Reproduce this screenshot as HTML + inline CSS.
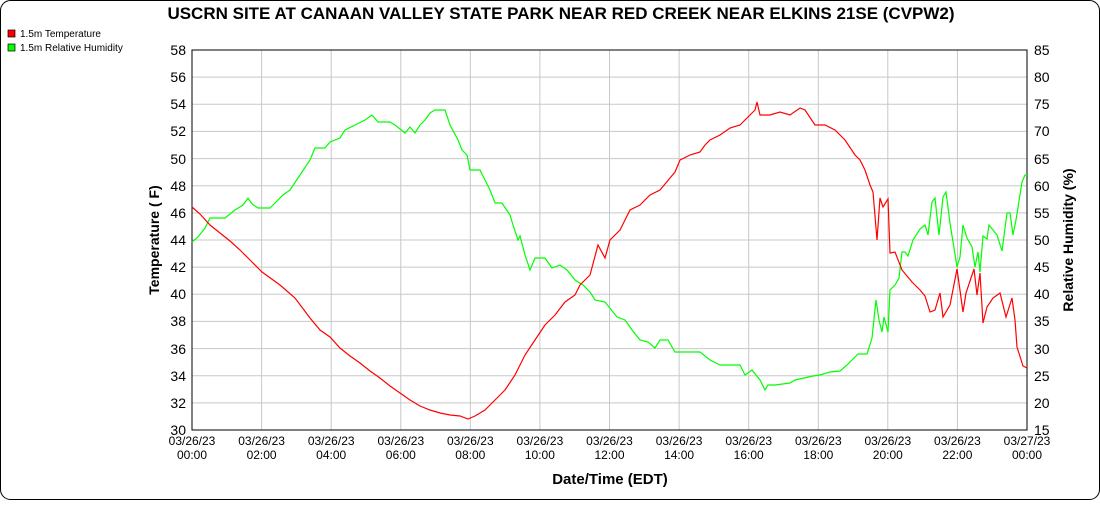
<!DOCTYPE html><html><head><style>body{margin:0;background:#fff}svg text{font-family:"Liberation Sans",sans-serif}</style></head><body>
<svg width="1100" height="500" xmlns="http://www.w3.org/2000/svg">
<rect x="0.5" y="0.5" width="1099" height="499" rx="10" fill="#fff" stroke="#000"/>
<text x="561" y="19" text-anchor="middle" font-size="17" font-weight="bold">USCRN SITE AT CANAAN VALLEY STATE PARK NEAR RED CREEK NEAR ELKINS 21SE (CVPW2)</text>
<rect x="8" y="30" width="7" height="7" fill="#f00" stroke="#000" stroke-width="0.7"/><text x="20" y="37" font-size="10">1.5m Temperature</text>
<rect x="8" y="44" width="7" height="7" fill="#0f0" stroke="#000" stroke-width="0.7"/><text x="20" y="51" font-size="10">1.5m Relative Humidity</text>
<g stroke="#c8c8c8" stroke-width="1">
<line x1="192" y1="77.1" x2="1027" y2="77.1"/><line x1="192" y1="104.3" x2="1027" y2="104.3"/><line x1="192" y1="131.4" x2="1027" y2="131.4"/><line x1="192" y1="158.6" x2="1027" y2="158.6"/><line x1="192" y1="185.7" x2="1027" y2="185.7"/><line x1="192" y1="212.9" x2="1027" y2="212.9"/><line x1="192" y1="240" x2="1027" y2="240"/><line x1="192" y1="267.1" x2="1027" y2="267.1"/><line x1="192" y1="294.3" x2="1027" y2="294.3"/><line x1="192" y1="321.4" x2="1027" y2="321.4"/><line x1="192" y1="348.6" x2="1027" y2="348.6"/><line x1="192" y1="375.7" x2="1027" y2="375.7"/><line x1="192" y1="402.9" x2="1027" y2="402.9"/>
<line x1="261.6" y1="50" x2="261.6" y2="430"/><line x1="331.2" y1="50" x2="331.2" y2="430"/><line x1="400.8" y1="50" x2="400.8" y2="430"/><line x1="470.3" y1="50" x2="470.3" y2="430"/><line x1="539.9" y1="50" x2="539.9" y2="430"/><line x1="609.5" y1="50" x2="609.5" y2="430"/><line x1="679.1" y1="50" x2="679.1" y2="430"/><line x1="748.7" y1="50" x2="748.7" y2="430"/><line x1="818.3" y1="50" x2="818.3" y2="430"/><line x1="887.8" y1="50" x2="887.8" y2="430"/><line x1="957.4" y1="50" x2="957.4" y2="430"/>
</g>
<rect x="192" y="50" width="835" height="380" fill="none" stroke="#000"/>
<g font-size="14" text-anchor="end">
<text x="186" y="55">58</text><text x="186" y="82">56</text><text x="186" y="109">54</text><text x="186" y="136">52</text><text x="186" y="164">50</text><text x="186" y="191">48</text><text x="186" y="218">46</text><text x="186" y="245">44</text><text x="186" y="272">42</text><text x="186" y="299">40</text><text x="186" y="326">38</text><text x="186" y="354">36</text><text x="186" y="381">34</text><text x="186" y="408">32</text><text x="186" y="435">30</text></g>
<g font-size="14">
<text x="1034" y="55">85</text><text x="1034" y="82">80</text><text x="1034" y="109">75</text><text x="1034" y="136">70</text><text x="1034" y="164">65</text><text x="1034" y="191">60</text><text x="1034" y="218">55</text><text x="1034" y="245">50</text><text x="1034" y="272">45</text><text x="1034" y="299">40</text><text x="1034" y="326">35</text><text x="1034" y="354">30</text><text x="1034" y="381">25</text><text x="1034" y="408">20</text><text x="1034" y="435">15</text></g>
<g font-size="12" text-anchor="middle">
<text x="192" y="445">03/26/23</text><text x="192" y="459">00:00</text>
<text x="261.6" y="445">03/26/23</text><text x="261.6" y="459">02:00</text>
<text x="331.2" y="445">03/26/23</text><text x="331.2" y="459">04:00</text>
<text x="400.8" y="445">03/26/23</text><text x="400.8" y="459">06:00</text>
<text x="470.3" y="445">03/26/23</text><text x="470.3" y="459">08:00</text>
<text x="539.9" y="445">03/26/23</text><text x="539.9" y="459">10:00</text>
<text x="609.5" y="445">03/26/23</text><text x="609.5" y="459">12:00</text>
<text x="679.1" y="445">03/26/23</text><text x="679.1" y="459">14:00</text>
<text x="748.7" y="445">03/26/23</text><text x="748.7" y="459">16:00</text>
<text x="818.3" y="445">03/26/23</text><text x="818.3" y="459">18:00</text>
<text x="887.8" y="445">03/26/23</text><text x="887.8" y="459">20:00</text>
<text x="957.4" y="445">03/26/23</text><text x="957.4" y="459">22:00</text>
<text x="1027" y="445">03/27/23</text><text x="1027" y="459">00:00</text></g>
<text x="610" y="484" text-anchor="middle" font-size="15" font-weight="bold">Date/Time (EDT)</text>
<text transform="translate(159,240) rotate(-90)" text-anchor="middle" font-size="14" font-weight="bold">Temperature ( F)</text>
<text transform="translate(1073,240) rotate(-90)" text-anchor="middle" font-size="14" font-weight="bold">Relative Humidity (%)</text>
<polyline fill="none" stroke="#0f0" stroke-width="1.2" points="192,242 198,237 205,228 210,218 225,218 235,210 243,205 248,198 252,204 258,208 270,208 278,200 283,195 290,190 300,175 310,160 315,148 325,148 330,142 340,138 345,130 355,125 365,120 372,115 378,122 390,122 395,125 405,133 410,127 415,133 420,125 425,120 430,113 435,110 445,110 450,125 458,140 462,150 467,155 470,170 480,170 485,180 490,190 495,203 502,203 510,215 513,225 518,240 520,236 525,255 530,270 535,258 545,258 552,268 560,265 567,270 575,280 583,285 590,292 595,300 605,302 617,317 625,320 632,330 640,340 648,342 655,348 660,340 668,340 675,352 700,352 710,360 720,365 740,365 745,375 752,370 760,380 765,390 768,385 775,385 790,383 795,380 813,376 820,375 830,372 840,371 847,365 853,359 858,354 867,354 872,338 876,300 879,320 882,332 884,317 888,332 890,290 895,285 899,278 902,252 905,252 908,256 913,240 920,229 925,225 928,235 932,202 935,198 939,235 943,197 946,192 950,223 957,267 960,257 963,225 967,238 972,247 975,267 978,252 980,272 983,236 987,239 989,225 997,235 1002,251 1007,213 1010,213 1013,235 1016,220 1022,182 1025,175 1027,175"/>
<polyline fill="none" stroke="#f00" stroke-width="1.2" points="192,207 200,214 210,225 220,233 230,241 240,250 250,260 262,272 280,285 295,298 310,318 320,330 330,337 340,348 350,356 360,363 370,371 380,378 390,386 400,393 410,400 420,406 430,410 440,413 450,415 460,416 468,419 475,416 485,410 495,400 505,390 515,375 525,355 535,340 545,325 555,315 565,302 575,295 580,285 590,275 598,245 605,258 610,240 620,230 625,220 630,210 640,205 650,195 660,190 670,178 675,172 680,160 690,155 700,152 705,145 710,140 720,135 730,128 740,125 745,120 750,115 755,110 757,102 760,115 770,115 780,112 790,115 800,108 805,110 815,125 825,125 835,130 845,140 855,155 860,160 865,170 870,185 873,192 877,240 880,198 883,207 888,199 890,253 895,252 902,270 912,282 920,290 925,296 930,312 935,310 940,293 943,317 950,305 957,269 963,312 966,293 974,269 977,295 980,273 983,323 987,307 993,298 1000,293 1006,317 1012,298 1015,320 1017,347 1023,366 1027,368"/>
</svg>
</body></html>
